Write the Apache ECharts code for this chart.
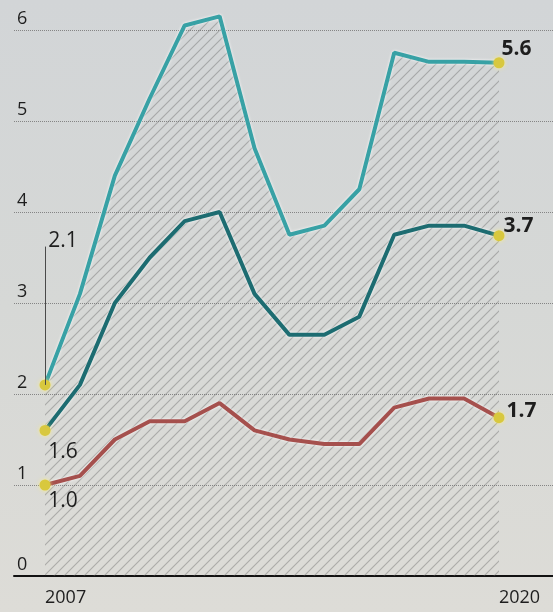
<!DOCTYPE html>
<html>
<head>
<meta charset="utf-8">
<script src="https://cdn.jsdelivr.net/npm/echarts@6/dist/echarts.min.js"></script>
<style>
html,body{margin:0;padding:0;background:#d8d9d4;}
#c{width:553px;height:612px;}
</style>
</head>
<body>
<div id="c"></div>
<script>
const years = [2007,2008,2009,2010,2011,2012,2013,2014,2015,2016,2017,2018,2019,2020];
const seriesTop = [2.1, 3.1, 4.4, 5.25, 6.05, 6.15, 4.7, 3.75, 3.85, 4.25, 5.75, 5.65, 5.65, 5.64];
const seriesMid = [1.6, 2.1, 3.0, 3.5, 3.9, 4.0, 3.1, 2.65, 2.65, 2.85, 3.75, 3.85, 3.85, 3.74];
const seriesLow = [1.0, 1.1, 1.5, 1.7, 1.7, 1.9, 1.6, 1.5, 1.45, 1.45, 1.85, 1.95, 1.95, 1.74];
const yTicks = [0, 1, 2, 3, 4, 5, 6];
const xTickLabels = [2007, 2020];
const leaderTop = 3.62;

const FONT = "'Open Sans', 'Noto Sans', sans-serif";
const TXT = '#1e1e1e';
const DOT = '#d8c83e';

function makeHatch(){
  const s = 10;
  const c = document.createElement('canvas');
  c.width = s; c.height = s;
  const g = c.getContext('2d');
  g.strokeStyle = 'rgba(105,105,105,0.42)';
  g.lineWidth = 1.1;
  g.beginPath();
  g.moveTo(0,s); g.lineTo(s,0);
  g.moveTo(-2,2); g.lineTo(2,-2);
  g.moveTo(s-2,s+2); g.lineTo(s+2,s-2);
  g.stroke();
  return c;
}

function buildData(vals, firstLabel, lastLabel){
  return vals.map((v,i)=>{
    const item = {value:[years[i], v]};
    if (i === 0 || i === vals.length-1){
      item.symbol = 'circle';
      item.symbolSize = 11;
      item.itemStyle = {color: DOT, shadowColor:'rgba(255,240,120,0.8)', shadowBlur:4};
      item.label = Object.assign({show:true, fontFamily:FONT, color:TXT, fontSize:21,
        formatter: p => p.value[1].toFixed(1)}, i===0 ? firstLabel : lastLabel);
    } else {
      item.symbol = 'none';
    }
    return item;
  });
}

function lineSeries(name, vals, color, firstLabel, lastLabel, extra){
  return Object.assign({
    name: name,
    type: 'line',
    clip: false,
    data: buildData(vals, firstLabel, lastLabel),
    showAllSymbol: true,
    lineStyle: {color: color, width: 4, shadowColor:'rgba(255,255,255,0.95)', shadowBlur:3},
    itemStyle: {color: color},
    emphasis: {disabled: true},
    animation: false
  }, extra || {});
}

const chart = echarts.init(document.getElementById('c'));
chart.setOption({
  backgroundColor: {type:'linear', x:0, y:0, x2:0, y2:1, colorStops:[
    {offset:0, color:'#d2d5d7'}, {offset:0.5, color:'#d6d8d6'}, {offset:1, color:'#dddcd7'}]},
  grid: {left: 14, right: 0, top: 30, bottom: 36},
  xAxis: {
    type: 'value', min: 2006.112, max: 2021.547,
    axisLine: {show: true, lineStyle: {color: '#111', width: 2}},
    axisTick: {show: false},
    splitLine: {show: false},
    axisLabel: {customValues: xTickLabels, align: 'left', margin: 13, fontSize: 18,
      fontFamily: FONT, color: TXT, formatter: v => String(v)}
  },
  yAxis: {
    type: 'value', min: yTicks[0], max: yTicks[yTicks.length-1], interval: 1,
    axisLine: {show: false},
    axisTick: {show: false},
    splitLine: {show: true, lineStyle: {type: 'dotted', color: '#858585', width: 1}},
    axisLabel: {inside: true, margin: 3, align: 'left', verticalAlign: 'bottom',
      padding: [0,0,2,0], fontSize: 18, fontFamily: FONT, color: TXT}
  },
  series: [
    lineSeries('top', seriesTop, '#38a1a5',
      {position:'top', distance:128, offset:[18,0]},
      {position:'right', distance:0, offset:[-3,-14], fontWeight:'bold'},
      {areaStyle: {color: {image: makeHatch(), repeat: 'repeat'}, opacity: 1},
       markLine: {silent: true, symbol: ['none','none'], label: {show:false},
         lineStyle: {color:'#4a4a4a', width:1, type:'solid'},
         data: [[{coord:[years[0], seriesTop[0]]}, {coord:[years[0], leaderTop]}]]}}),
    lineSeries('mid', seriesMid, '#1d6c71',
      {position:'bottom', distance:6, offset:[18,0]},
      {position:'right', distance:0, offset:[-1,-10], fontWeight:'bold'}),
    lineSeries('low', seriesLow, '#a5504d',
      {position:'bottom', distance:0, offset:[18,0]},
      {position:'right', distance:0, offset:[2,-7], fontWeight:'bold'})
  ]
});
</script>
</body>
</html>
